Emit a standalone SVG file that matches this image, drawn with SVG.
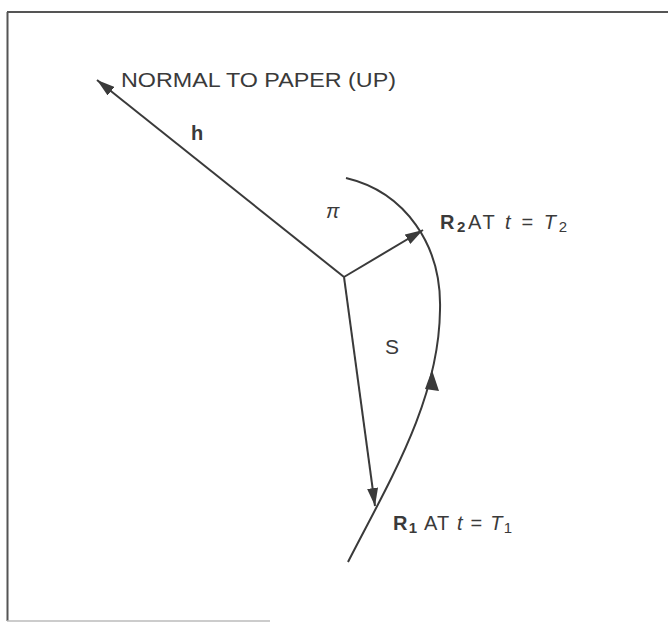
<svg xmlns="http://www.w3.org/2000/svg" width="668" height="624" viewBox="0 0 668 624">
<defs>
<style>
.ln{stroke:#3a3a3a;stroke-width:2;fill:none}
.tx{font-family:"Liberation Sans",Arial,sans-serif;fill:#3a3a3a}
.frame{stroke:#555;stroke-width:2;fill:none}
</style>
<marker id="ah" viewBox="0 0 18 11" refX="18" refY="5.5" markerWidth="18" markerHeight="11" markerUnits="userSpaceOnUse" orient="auto">
<path d="M0,0 L18,5.5 L0,11 Z" fill="#3a3a3a"/>
</marker>
</defs>
<rect width="668" height="624" fill="#fff"/>
<g id="frame">
<path class="frame" d="M7,12 H668 M7.5,12 V621"/>
<path d="M7,621 H270" stroke="#bbb" stroke-width="1.5"/>
</g>
<g id="connectors">
<line class="ln" x1="344" y1="277" x2="97" y2="80" marker-end="url(#ah)"/>
<line class="ln" x1="344" y1="277" x2="423" y2="230" marker-end="url(#ah)"/>
<line class="ln" x1="344" y1="277" x2="375" y2="506" marker-end="url(#ah)"/>
<path class="ln" d="M346,178 C405,192 442,245 440,310 C439,400 390,480 348,562" stroke-width="2.5"/>
<path d="M432,370 L439,391 L425,389 Z" fill="#3a3a3a"/>
</g>
<g id="labels">
<text class="tx" x="121" y="87" font-size="19.5" textLength="275" lengthAdjust="spacingAndGlyphs">NORMAL TO PAPER (UP)</text>
<text class="tx" x="191" y="140" font-size="20" font-weight="bold">h</text>
<text class="tx" x="326" y="218" font-size="20" font-style="italic" font-family="Liberation Serif,serif">π</text>
<text class="tx" x="385" y="354" font-size="21">S</text>
<text class="tx" x="440" y="229" font-size="20" textLength="127" lengthAdjust="spacing"><tspan font-weight="bold">R</tspan><tspan font-weight="bold" font-size="15" dy="3">2</tspan><tspan dy="-3">AT  </tspan><tspan font-style="italic">t</tspan><tspan> = </tspan><tspan font-style="italic">T</tspan><tspan font-size="15" dy="3">2</tspan></text>
<text class="tx" x="393" y="530" font-size="20" textLength="119" lengthAdjust="spacing"><tspan font-weight="bold">R</tspan><tspan font-weight="bold" font-size="15" dy="3">1</tspan><tspan dy="-3"> AT  </tspan><tspan font-style="italic">t</tspan><tspan> = </tspan><tspan font-style="italic">T</tspan><tspan font-size="15" dy="3">1</tspan></text>
</g>
</svg>
